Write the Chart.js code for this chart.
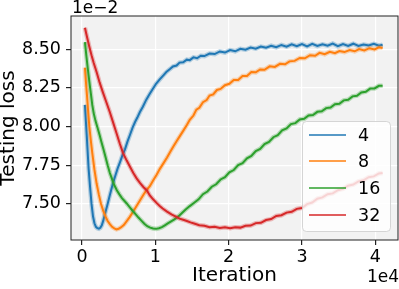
<!DOCTYPE html>
<html>
<head>
<meta charset="utf-8">
<script src="https://cdn.jsdelivr.net/npm/chart.js@4.4.1/dist/chart.umd.min.js"></script>
<style>
  html, body { margin: 0; padding: 0; background: #fff; }
  canvas { display: block; }
</style>
</head>
<body>
<canvas id="chart" width="399" height="289"></canvas>
<script>
// testing loss (x 1e-2) vs iteration, one curve per setting

const seriesNames = ["4", "8", "16", "32"];
const seriesColors = ["#1f77b4", "#ff7f0e", "#2ca02c", "#d62728"];

const xTicks = [0, 10000, 20000, 30000, 40000];
const yTicks = [7.50, 7.75, 8.00, 8.25, 8.50];

const iters4 = [400, 650, 900, 1100, 1300, 1500, 1700, 1900, 2100, 2300, 2500, 2700, 2900, 3100, 3450, 3800, 4150, 4500, 4850, 5200, 5500, 5850, 6200, 6550, 6900, 7250, 7550, 7900, 8300, 8750, 9200, 9650, 10100, 10600, 11100, 11500, 12000, 12400, 12900, 13300, 13800, 14300, 14700, 15200, 15700, 16200, 16700, 17400, 18100, 18800, 19500, 20200, 20900, 21600, 22300, 23000, 23700, 24400, 25100, 25800, 26500, 27200, 27900, 28600, 29300, 30000, 30700, 31400, 32100, 32800, 33500, 34200, 34900, 35600, 36300, 37000, 37700, 38400, 39100, 39800, 40500, 41000];
const loss4 = [8.14, 7.94, 7.73, 7.61, 7.50, 7.42, 7.375, 7.352, 7.343, 7.340, 7.346, 7.362, 7.392, 7.430, 7.492, 7.558, 7.621, 7.676, 7.728, 7.772, 7.812, 7.851, 7.902, 7.947, 7.993, 8.031, 8.058, 8.094, 8.128, 8.172, 8.208, 8.243, 8.276, 8.304, 8.331, 8.352,
  8.371, 8.388, 8.394, 8.413, 8.415, 8.432, 8.429, 8.447, 8.441, 8.457, 8.455, 8.471, 8.468, 8.485, 8.478, 8.494, 8.486, 8.502, 8.496, 8.510, 8.503, 8.517, 8.509, 8.522, 8.512, 8.527, 8.516, 8.531, 8.519, 8.533, 8.518, 8.534, 8.520, 8.531, 8.522, 8.536, 8.519, 8.532, 8.521, 8.535, 8.520, 8.530, 8.523, 8.534, 8.522, 8.528];

const iters8 = [400, 550, 700, 850, 1000, 1200, 1400, 1700, 2000, 2300, 2600, 2900, 3200, 3500, 3800, 4100, 4400, 4700, 5000, 5300, 5700, 6100, 6500, 6900, 7400, 7900, 8400, 8800, 9250, 9700, 10200, 10600, 11100, 11600, 12100, 12500, 12900, 13300, 13800, 14300, 14700, 15200, 15600, 16000, 16500, 17000, 17400, 17900, 18400, 18900, 19500, 20100, 20700, 21300, 21900, 22500, 23100, 23700, 24300, 24900, 25600, 26300, 27000, 27700, 28300, 29000, 29700, 30400, 31100, 31800, 32400, 33100, 33800, 34500, 35100, 35800, 36500, 37200, 37800, 38500, 39200, 39900, 40500, 41000];
const loss8 = [8.38, 8.28, 8.19, 8.09, 8.00, 7.91, 7.83, 7.72, 7.63, 7.56, 7.50, 7.455, 7.42, 7.39, 7.37, 7.352, 7.342, 7.336, 7.340, 7.348, 7.364, 7.389, 7.415, 7.445, 7.484, 7.522, 7.561, 7.590, 7.615, 7.652, 7.690, 7.725, 7.762, 7.800, 7.842, 7.874, 7.905, 7.935, 7.972, 8.010,
  8.044, 8.071, 8.109, 8.121, 8.157, 8.171, 8.200, 8.207, 8.236, 8.243, 8.267, 8.276, 8.300, 8.301, 8.326, 8.327, 8.352, 8.350, 8.369, 8.367, 8.389, 8.385, 8.405, 8.402, 8.421, 8.424, 8.443, 8.441, 8.461, 8.457, 8.476, 8.467, 8.483, 8.474, 8.488, 8.481, 8.494, 8.486, 8.500, 8.492, 8.506, 8.498, 8.512, 8.508];

const iters16 = [400, 600, 800, 1000, 1200, 1400, 1600, 1850, 2100, 2400, 2650, 2900, 3200, 3500, 3800, 4100, 4400, 4750, 5100, 5450, 5800, 6100, 6500, 6900, 7300, 7700, 8100, 8500, 8900, 9300, 9700, 10100, 10500, 10900, 11300, 11700, 12100, 12600, 13100, 13600, 14100, 14700, 15300, 15900, 16500, 17100, 17700, 18300, 18900, 19500, 20100, 20700, 21300, 21900, 22500, 23100, 23700, 24300, 24900, 25500, 26100, 26700, 27300, 27900, 28500, 29100, 29700, 30300, 30900, 31500, 32100, 32700, 33300, 33900, 34500, 35100, 35700, 36300, 36900, 37500, 38100, 38700, 39300, 39900, 40500, 41000];
const loss16 = [8.545, 8.455, 8.37, 8.29, 8.215, 8.14, 8.085, 8.035, 7.995, 7.945, 7.90, 7.858, 7.805, 7.75, 7.70, 7.66, 7.622, 7.588, 7.562, 7.538, 7.519, 7.503, 7.48, 7.456, 7.434, 7.412, 7.392, 7.372, 7.356, 7.347, 7.341, 7.339, 7.343, 7.350, 7.362, 7.374, 7.386, 7.400, 7.418, 7.440, 7.462, 7.486, 7.508, 7.530,
  7.563, 7.580, 7.611, 7.627, 7.658, 7.673, 7.704, 7.719, 7.751, 7.764, 7.795, 7.810, 7.842, 7.856, 7.886, 7.900, 7.931, 7.944, 7.975, 7.988, 8.016, 8.022, 8.046, 8.050, 8.071, 8.074, 8.095, 8.098, 8.119, 8.123, 8.144, 8.147, 8.169, 8.173, 8.195, 8.199, 8.220, 8.225, 8.245, 8.246, 8.263, 8.264];

const iters32 = [400, 700, 1000, 1300, 1600, 2000, 2400, 2850, 3300, 3800, 4250, 4700, 5150, 5600, 6100, 6600, 7000, 7450, 7900, 8400, 8850, 9250, 9700, 10200, 10600, 11000, 11600, 12200, 12800, 13300, 13800, 14300, 14800, 15400, 16000, 16700, 17400, 18100, 18800, 19500, 20200, 20900, 21600, 22300, 23000, 23700, 24400, 25100, 25800, 26500, 27200, 27900, 28600, 29300, 30000, 30700, 31400, 32100, 32800, 33500, 34200, 34900, 35600, 36300, 37000, 37700, 38400, 39100, 39800, 40500, 41000];
const loss32 = [8.638, 8.575, 8.515, 8.46, 8.41, 8.351, 8.285, 8.221, 8.16, 8.092, 8.025, 7.958, 7.89, 7.828, 7.78, 7.735, 7.70, 7.665, 7.636, 7.608, 7.587, 7.555, 7.53, 7.505, 7.487, 7.470, 7.450, 7.432, 7.418, 7.405, 7.398, 7.390, 7.381, 7.372, 7.362,
  7.359, 7.349, 7.352, 7.344, 7.349, 7.343, 7.350, 7.347, 7.359, 7.360, 7.376, 7.378, 7.396, 7.402, 7.422, 7.427, 7.444, 7.449, 7.468, 7.474, 7.499, 7.509, 7.534, 7.542, 7.563, 7.568, 7.589, 7.597, 7.618, 7.625, 7.646, 7.653, 7.673, 7.678, 7.697, 7.700];

const allIters = [iters4, iters8, iters16, iters32];
const allLoss = [loss4, loss8, loss16, loss32];

function toPoints(xs, ys) {
  return xs.map((x, i) => ({ x: x, y: ys[i] }));
}

function hexAlpha(hex, a) {
  const n = parseInt(hex.slice(1), 16);
  return `rgba(${(n >> 16) & 255}, ${(n >> 8) & 255}, ${n & 255}, ${a})`;
}

const datasets = [];
seriesNames.forEach((name, i) => {
  const pts = toPoints(allIters[i], allLoss[i]);
  // faint wide band under the line, like the raw curve
  datasets.push({
    label: name + " raw",
    data: pts,
    borderColor: hexAlpha(seriesColors[i], 0.3),
    borderWidth: 4.5,
    pointRadius: 0,
    tension: 0,
    order: 10 - 2 * i
  });
  datasets.push({
    label: name,
    data: pts,
    borderColor: seriesColors[i],
    borderWidth: 2,
    pointRadius: 0,
    tension: 0,
    order: 9 - 2 * i
  });
});

const FONT = "'DejaVu Sans', sans-serif";

const plotFrame = {
  id: "plotFrame",
  beforeDraw(chart) {
    const { ctx, chartArea: a } = chart;
    ctx.save();
    ctx.fillStyle = "#f2f2f2";
    ctx.fillRect(a.left, a.top, a.right - a.left, a.bottom - a.top);
    ctx.restore();
  },
  afterDatasetsDraw(chart) {
    const { ctx, chartArea: a } = chart;
    ctx.save();
    ctx.strokeStyle = "#222";
    ctx.lineWidth = 1;
    ctx.strokeRect(a.left, a.top, a.right - a.left, a.bottom - a.top);

    // offset texts
    ctx.fillStyle = "#000";
    ctx.font = "17px " + FONT;
    ctx.textBaseline = "alphabetic";
    ctx.textAlign = "left";
    ctx.fillText("1e\u22122", a.left + 1, 13);
    ctx.textAlign = "right";
    ctx.fillText("1e4", 399, 282);

    // legend box
    const bx = 302, by = 121, bw = 88, bh = 110, r = 4;
    ctx.beginPath();
    ctx.roundRect(bx + 0.5, by + 0.5, bw, bh, r);
    ctx.fillStyle = "rgba(255,255,255,0.8)";
    ctx.fill();
    ctx.strokeStyle = "rgba(204,204,204,0.8)";
    ctx.lineWidth = 1;
    ctx.stroke();

    const rowY = [135, 161, 188, 215];
    ctx.font = "17.5px " + FONT;
    ctx.textAlign = "left";
    ctx.textBaseline = "middle";
    seriesNames.forEach((name, i) => {
      ctx.beginPath();
      ctx.moveTo(309, rowY[i]);
      ctx.lineTo(346, rowY[i]);
      ctx.strokeStyle = seriesColors[i];
      ctx.lineWidth = 1.5;
      ctx.stroke();
      ctx.fillStyle = "#000";
      ctx.fillText(name, 358, rowY[i] + 1);
    });
    ctx.restore();
  }
};

new Chart(document.getElementById("chart").getContext("2d"), {
  type: "line",
  data: { datasets },
  plugins: [plotFrame],
  options: {
    responsive: false,
    animation: false,
    devicePixelRatio: 1,
    layout: { padding: { top: 16, right: 1, left: 0, bottom: 0 } },
    plugins: { legend: { display: false }, tooltip: { enabled: false } },
    scales: {
      x: {
        type: "linear",
        min: -1500,
        max: 43100,
        afterBuildTicks: (s) => { s.ticks = xTicks.map(v => ({ value: v })); },
        afterFit: (s) => { s.height = 49; },
        border: { display: false },
        grid: { color: "#ffffff", lineWidth: 1.2, tickColor: "#222", tickLength: 5 },
        ticks: {
          color: "#000",
          padding: 2,
          maxRotation: 0,
          font: { family: FONT, size: 17.5 },
          callback: (v) => String(v / 10000)
        },
        title: {
          display: true,
          text: "Iteration",
          color: "#000",
          padding: { top: 0, bottom: 3 },
          font: { family: FONT, size: 20, lineHeight: 1 }
        }
      },
      y: {
        min: 7.267,
        max: 8.714,
        afterBuildTicks: (s) => { s.ticks = yTicks.map(v => ({ value: v })); },
        afterFit: (s) => { s.width = 71; },
        border: { display: false },
        grid: { color: "#ffffff", lineWidth: 1.2, tickColor: "#222", tickLength: 5 },
        ticks: {
          color: "#000",
          padding: 5,
          font: { family: FONT, size: 17.5 },
          callback: (v) => Number(v).toFixed(2)
        },
        title: {
          display: true,
          text: "Testing loss",
          color: "#000",
          padding: { top: 0, bottom: 0 },
          font: { family: FONT, size: 20, lineHeight: 0.9 }
        }
      }
    }
  }
});
</script>
</body>
</html>
